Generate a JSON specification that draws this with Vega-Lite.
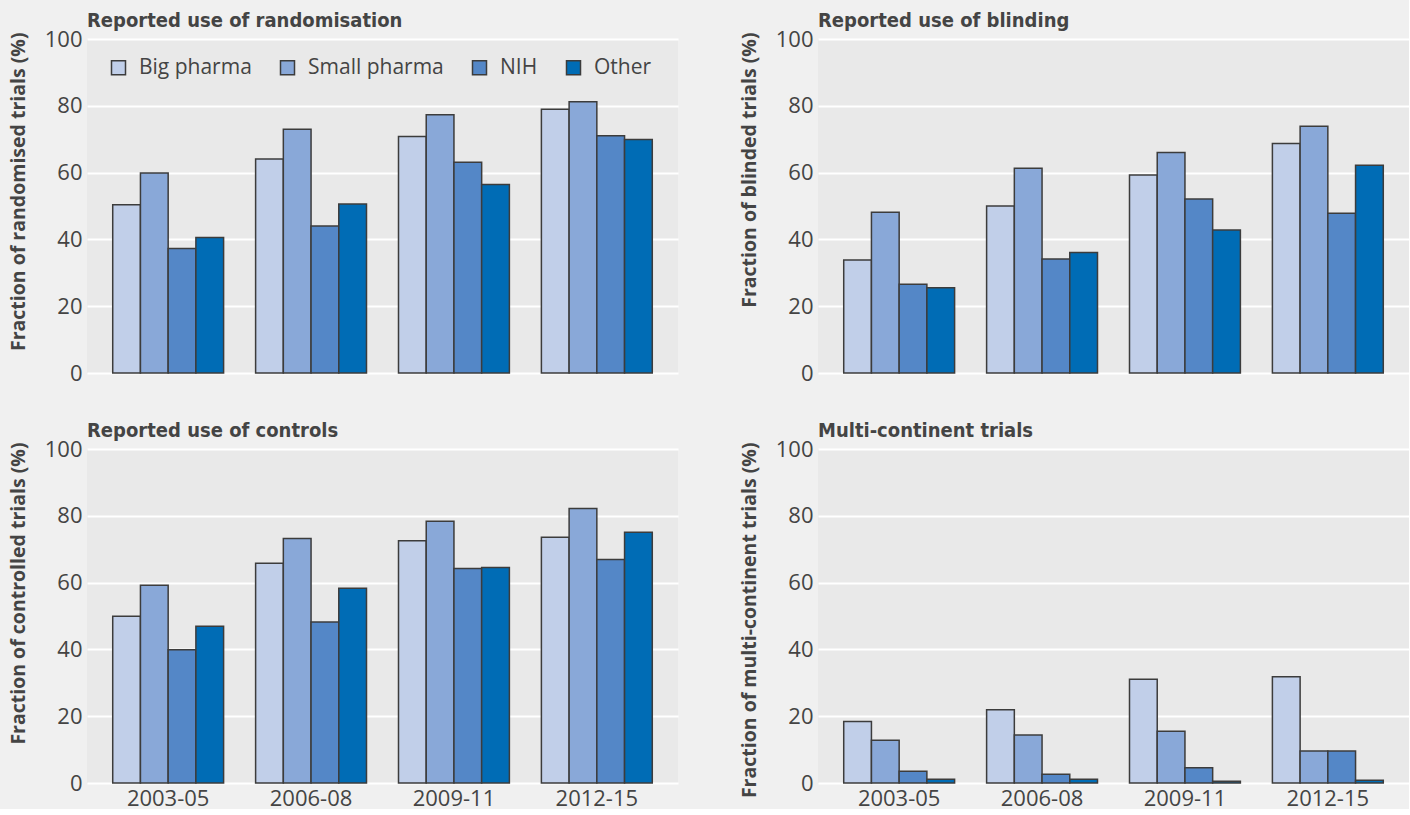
{
  "$schema": "https://vega.github.io/schema/vega-lite/v6.json",
  "background": "#f0f0f0",
  "padding": {"left": 8, "top": 11, "right": 0, "bottom": 0},
  "data": {"values": [
    {"panel": "rand", "period": "2003-05", "sponsor": "Big pharma", "value": 50.4},
    {"panel": "rand", "period": "2003-05", "sponsor": "Small pharma", "value": 59.9},
    {"panel": "rand", "period": "2003-05", "sponsor": "NIH", "value": 37.3},
    {"panel": "rand", "period": "2003-05", "sponsor": "Other", "value": 40.6},
    {"panel": "rand", "period": "2006-08", "sponsor": "Big pharma", "value": 64.1},
    {"panel": "rand", "period": "2006-08", "sponsor": "Small pharma", "value": 73.0},
    {"panel": "rand", "period": "2006-08", "sponsor": "NIH", "value": 44.0},
    {"panel": "rand", "period": "2006-08", "sponsor": "Other", "value": 50.6},
    {"panel": "rand", "period": "2009-11", "sponsor": "Big pharma", "value": 70.8},
    {"panel": "rand", "period": "2009-11", "sponsor": "Small pharma", "value": 77.3},
    {"panel": "rand", "period": "2009-11", "sponsor": "NIH", "value": 63.1},
    {"panel": "rand", "period": "2009-11", "sponsor": "Other", "value": 56.4},
    {"panel": "rand", "period": "2012-15", "sponsor": "Big pharma", "value": 79.0},
    {"panel": "rand", "period": "2012-15", "sponsor": "Small pharma", "value": 81.2},
    {"panel": "rand", "period": "2012-15", "sponsor": "NIH", "value": 71.0},
    {"panel": "rand", "period": "2012-15", "sponsor": "Other", "value": 69.9},
    {"panel": "blind", "period": "2003-05", "sponsor": "Big pharma", "value": 33.8},
    {"panel": "blind", "period": "2003-05", "sponsor": "Small pharma", "value": 48.1},
    {"panel": "blind", "period": "2003-05", "sponsor": "NIH", "value": 26.6},
    {"panel": "blind", "period": "2003-05", "sponsor": "Other", "value": 25.5},
    {"panel": "blind", "period": "2006-08", "sponsor": "Big pharma", "value": 50.0},
    {"panel": "blind", "period": "2006-08", "sponsor": "Small pharma", "value": 61.3},
    {"panel": "blind", "period": "2006-08", "sponsor": "NIH", "value": 34.1},
    {"panel": "blind", "period": "2006-08", "sponsor": "Other", "value": 36.1},
    {"panel": "blind", "period": "2009-11", "sponsor": "Big pharma", "value": 59.3},
    {"panel": "blind", "period": "2009-11", "sponsor": "Small pharma", "value": 66.0},
    {"panel": "blind", "period": "2009-11", "sponsor": "NIH", "value": 52.1},
    {"panel": "blind", "period": "2009-11", "sponsor": "Other", "value": 42.8},
    {"panel": "blind", "period": "2012-15", "sponsor": "Big pharma", "value": 68.7},
    {"panel": "blind", "period": "2012-15", "sponsor": "Small pharma", "value": 73.9},
    {"panel": "blind", "period": "2012-15", "sponsor": "NIH", "value": 47.8},
    {"panel": "blind", "period": "2012-15", "sponsor": "Other", "value": 62.2},
    {"panel": "ctrl", "period": "2003-05", "sponsor": "Big pharma", "value": 49.9},
    {"panel": "ctrl", "period": "2003-05", "sponsor": "Small pharma", "value": 59.2},
    {"panel": "ctrl", "period": "2003-05", "sponsor": "NIH", "value": 39.9},
    {"panel": "ctrl", "period": "2003-05", "sponsor": "Other", "value": 46.9},
    {"panel": "ctrl", "period": "2006-08", "sponsor": "Big pharma", "value": 65.8},
    {"panel": "ctrl", "period": "2006-08", "sponsor": "Small pharma", "value": 73.2},
    {"panel": "ctrl", "period": "2006-08", "sponsor": "NIH", "value": 48.2},
    {"panel": "ctrl", "period": "2006-08", "sponsor": "Other", "value": 58.3},
    {"panel": "ctrl", "period": "2009-11", "sponsor": "Big pharma", "value": 72.5},
    {"panel": "ctrl", "period": "2009-11", "sponsor": "Small pharma", "value": 78.4},
    {"panel": "ctrl", "period": "2009-11", "sponsor": "NIH", "value": 64.2},
    {"panel": "ctrl", "period": "2009-11", "sponsor": "Other", "value": 64.5},
    {"panel": "ctrl", "period": "2012-15", "sponsor": "Big pharma", "value": 73.6},
    {"panel": "ctrl", "period": "2012-15", "sponsor": "Small pharma", "value": 82.2},
    {"panel": "ctrl", "period": "2012-15", "sponsor": "NIH", "value": 66.9},
    {"panel": "ctrl", "period": "2012-15", "sponsor": "Other", "value": 75.1},
    {"panel": "multi", "period": "2003-05", "sponsor": "Big pharma", "value": 18.4},
    {"panel": "multi", "period": "2003-05", "sponsor": "Small pharma", "value": 12.8},
    {"panel": "multi", "period": "2003-05", "sponsor": "NIH", "value": 3.5},
    {"panel": "multi", "period": "2003-05", "sponsor": "Other", "value": 1.1},
    {"panel": "multi", "period": "2006-08", "sponsor": "Big pharma", "value": 21.9},
    {"panel": "multi", "period": "2006-08", "sponsor": "Small pharma", "value": 14.4},
    {"panel": "multi", "period": "2006-08", "sponsor": "NIH", "value": 2.6},
    {"panel": "multi", "period": "2006-08", "sponsor": "Other", "value": 1.1},
    {"panel": "multi", "period": "2009-11", "sponsor": "Big pharma", "value": 31.1},
    {"panel": "multi", "period": "2009-11", "sponsor": "Small pharma", "value": 15.5},
    {"panel": "multi", "period": "2009-11", "sponsor": "NIH", "value": 4.6},
    {"panel": "multi", "period": "2009-11", "sponsor": "Other", "value": 0.5},
    {"panel": "multi", "period": "2012-15", "sponsor": "Big pharma", "value": 31.8},
    {"panel": "multi", "period": "2012-15", "sponsor": "Small pharma", "value": 9.6},
    {"panel": "multi", "period": "2012-15", "sponsor": "NIH", "value": 9.6},
    {"panel": "multi", "period": "2012-15", "sponsor": "Other", "value": 0.8}
  ]},
  "columns": 2,
  "bounds": "flush",
  "spacing": {"row": 76, "column": 140},
  "resolve": {"scale": {"color": "independent"}, "legend": {"color": "independent"}},
  "concat": [
    {
      "width": 591, "height": 334,
      "title": {"text": "Reported use of randomisation"},
      "transform": [{"filter": "datum.panel === 'rand'"}],
      "mark": {"type": "bar", "stroke": "#3c3c3c", "strokeWidth": 1.5},
      "encoding": {
        "x": {"field": "period", "type": "nominal", "sort": null, "scale": {"paddingInner": 0.224, "paddingOuter": 0.18}, "axis": null},
        "xOffset": {"field": "sponsor", "type": "nominal", "sort": ["Big pharma", "Small pharma", "NIH", "Other"]},
        "y": {"field": "value", "type": "quantitative", "scale": {"domain": [0, 100]}, "axis": {"values": [0, 20, 40, 60, 80, 100], "title": "Fraction of randomised trials (%)"}},
        "color": {"field": "sponsor", "type": "nominal", "sort": ["Big pharma", "Small pharma", "NIH", "Other"],
          "scale": {"domain": ["Big pharma", "Small pharma", "NIH", "Other"], "range": ["#c1cfe9", "#89a8d8", "#5487c7", "#006cb5"]},
          "legend": {"title": null, "orient": "none", "legendX": 21, "legendY": 18, "direction": "horizontal", "columnPadding": 25}}
      }
    },
    {
      "width": 591, "height": 334,
      "title": {"text": "Reported use of blinding"},
      "transform": [{"filter": "datum.panel === 'blind'"}],
      "mark": {"type": "bar", "stroke": "#3c3c3c", "strokeWidth": 1.5},
      "encoding": {
        "x": {"field": "period", "type": "nominal", "sort": null, "scale": {"paddingInner": 0.224, "paddingOuter": 0.18}, "axis": null},
        "xOffset": {"field": "sponsor", "type": "nominal", "sort": ["Big pharma", "Small pharma", "NIH", "Other"]},
        "y": {"field": "value", "type": "quantitative", "scale": {"domain": [0, 100]}, "axis": {"values": [0, 20, 40, 60, 80, 100], "title": "Fraction of blinded trials (%)"}},
        "color": {"field": "sponsor", "type": "nominal", "sort": ["Big pharma", "Small pharma", "NIH", "Other"],
          "scale": {"domain": ["Big pharma", "Small pharma", "NIH", "Other"], "range": ["#c1cfe9", "#89a8d8", "#5487c7", "#006cb5"]},
          "legend": null}
      }
    },
    {
      "width": 591, "height": 334,
      "title": {"text": "Reported use of controls"},
      "transform": [{"filter": "datum.panel === 'ctrl'"}],
      "mark": {"type": "bar", "stroke": "#3c3c3c", "strokeWidth": 1.5},
      "encoding": {
        "x": {"field": "period", "type": "nominal", "sort": null, "scale": {"paddingInner": 0.224, "paddingOuter": 0.18}, "axis": {"title": null, "labelAngle": 0}},
        "xOffset": {"field": "sponsor", "type": "nominal", "sort": ["Big pharma", "Small pharma", "NIH", "Other"]},
        "y": {"field": "value", "type": "quantitative", "scale": {"domain": [0, 100]}, "axis": {"values": [0, 20, 40, 60, 80, 100], "title": "Fraction of controlled trials (%)"}},
        "color": {"field": "sponsor", "type": "nominal", "sort": ["Big pharma", "Small pharma", "NIH", "Other"],
          "scale": {"domain": ["Big pharma", "Small pharma", "NIH", "Other"], "range": ["#c1cfe9", "#89a8d8", "#5487c7", "#006cb5"]},
          "legend": null}
      }
    },
    {
      "width": 591, "height": 334,
      "title": {"text": "Multi-continent trials"},
      "transform": [{"filter": "datum.panel === 'multi'"}],
      "mark": {"type": "bar", "stroke": "#3c3c3c", "strokeWidth": 1.5},
      "encoding": {
        "x": {"field": "period", "type": "nominal", "sort": null, "scale": {"paddingInner": 0.224, "paddingOuter": 0.18}, "axis": {"title": null, "labelAngle": 0}},
        "xOffset": {"field": "sponsor", "type": "nominal", "sort": ["Big pharma", "Small pharma", "NIH", "Other"]},
        "y": {"field": "value", "type": "quantitative", "scale": {"domain": [0, 100]}, "axis": {"values": [0, 20, 40, 60, 80, 100], "title": "Fraction of multi-continent trials (%)"}},
        "color": {"field": "sponsor", "type": "nominal", "sort": ["Big pharma", "Small pharma", "NIH", "Other"],
          "scale": {"domain": ["Big pharma", "Small pharma", "NIH", "Other"], "range": ["#c1cfe9", "#89a8d8", "#5487c7", "#006cb5"]},
          "legend": null}
      }
    }
  ],
  "config": {
    "font": "Open Sans",
    "view": {"fill": "#e9e9e9", "stroke": null},
    "axis": {"domain": false, "ticks": false, "labelFont": "Open Sans", "labelFontSize": 22, "labelColor": "#444444", "titleFont": "Open Sans", "titleFontSize": 19.5, "titleFontWeight": "bold", "titleColor": "#444444", "gridColor": "#ffffff", "gridWidth": 2, "labelPadding": 5},
    "axisX": {"grid": false, "labelPadding": 5},
    "axisY": {"titlePadding": 16, "titleAnchor": "end", "titleY": -7},
    "title": {"anchor": "start", "frame": "group", "font": "DejaVu Sans Condensed", "fontSize": 20, "fontWeight": "bold", "color": "#444444", "offset": -3},
    "legend": {"symbolType": "square", "symbolSize": 196, "symbolStrokeColor": "#3c3c3c", "symbolStrokeWidth": 1.5, "labelFont": "Open Sans", "labelFontSize": 21, "labelColor": "#444444", "labelOffset": 10, "symbolOpacity": 1}
  }
}
